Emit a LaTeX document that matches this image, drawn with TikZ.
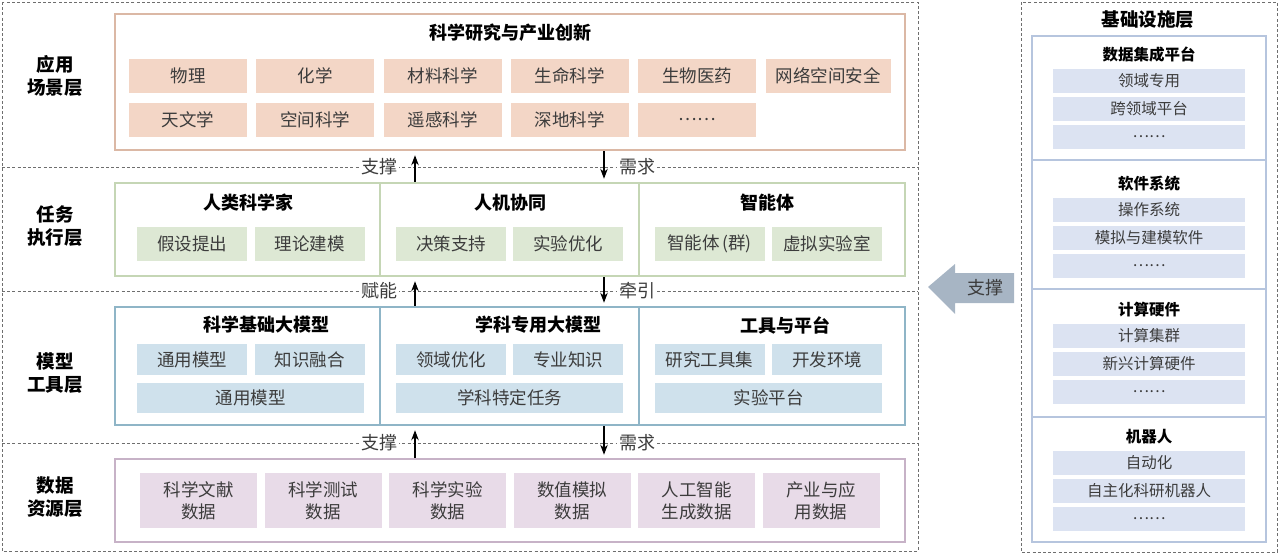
\documentclass[tikz,border=0pt]{standalone}
\usepackage{fontspec}
\setmainfont{Noto Sans CJK SC}
\usepackage{xcolor}
\usepackage{tikz}
\usetikzlibrary{arrows.meta,positioning}
\definecolor{appline}{RGB}{219,184,165}
\definecolor{appfill}{RGB}{243,214,198}
\definecolor{taskline}{RGB}{197,214,181}
\definecolor{taskfill}{RGB}{221,232,212}
\definecolor{modline}{RGB}{143,181,199}
\definecolor{modfill}{RGB}{207,225,236}
\definecolor{datline}{RGB}{199,178,199}
\definecolor{datfill}{RGB}{232,219,232}
\definecolor{infline}{RGB}{182,197,222}
\definecolor{inffill}{RGB}{220,227,242}
\definecolor{bigarrow}{RGB}{167,181,196}
\definecolor{txt}{RGB}{60,60,60}
\definecolor{sepgray}{RGB}{110,110,110}
\tikzset{
  layerbox/.style={draw=#1, line width=2.5pt, minimum width=790pt, inner sep=0pt},
  cell/.style={fill=#1, inner sep=0pt, text=txt, align=center,
    font=\fontsize{17.5}{22}\selectfont},
  headline/.style={font=\bfseries\fontsize{18}{22}\selectfont},
  layerlabel/.style={align=center, font=\bfseries\fontsize{18.5}{23}\selectfont},
  sepline/.style={sepgray, line width=0.7pt, dash pattern=on 3pt off 2.2pt},
  flowlabel/.style={fill=white, inner sep=2pt, text=txt, font=\fontsize{18}{22}\selectfont},
  flowarrow/.style={-{Stealth[length=10pt,width=7.5pt]}, line width=1.1pt},
  infcell/.style={fill=inffill, minimum width=192pt, minimum height=24pt, inner sep=0pt,
    text=txt, font=\fontsize{15.5}{18}\selectfont},
  inftitle/.style={font=\bfseries\fontsize{15.5}{18}\selectfont}
}
\begin{document}
\begin{tikzpicture}[x=1pt, y=-1pt]
    \useasboundingbox (0,0) rectangle (1280,554);
    % frames
    \draw[sepline] (2,2) rectangle (918,551);
    \draw[sepline] (1021,2) rectangle (1277,552);
    \draw[sepline] (2,167) -- (918,167);
    \draw[sepline] (2,291) -- (918,291);
    \draw[sepline] (2,443) -- (918,443);

    % layer names
    \node[layerlabel] (n1) at (55,76) {应用\\场景层};
    \node[layerlabel] (n2) at (55,226) {任务\\执行层};
    \node[layerlabel] (n3) at (55,373) {模型\\工具层};
    \node[layerlabel] (n4) at (55,497) {数据\\资源层};

    % application layer
    \node[layerbox=appline, minimum height=136pt] (app) at (510,82) {};
    \node[headline] (appt) at (510,33) {科学研究与产业创新};
    \foreach \t [count=\i] in {物理,化学,材料科学,生命科学,生物医药}
      \node[cell=appfill, minimum width=118pt, minimum height=34pt] (a\i) at ({188+127.25*(\i-1)},76) {\t};
    \node[cell=appfill, minimum width=125pt, minimum height=34pt] (a6) at (828,76) {网络空间安全};
    \foreach \t [count=\i] in {天文学,空间科学,遥感科学,深地科学,……}
      \node[cell=appfill, minimum width=118pt, minimum height=34pt] (b\i) at ({188+127.25*(\i-1)},120) {\t};

    % task layer
    \node[layerbox=taskline, minimum height=93pt] (task) at (510,229.5) {};
    \coordinate (d1) at (380,0);
    \coordinate (d2) at (639,0);
    \draw[taskline, line width=2.5pt] (task.north -| d1) -- (task.south -| d1);
    \draw[taskline, line width=2.5pt] (task.north -| d2) -- (task.south -| d2);
    \node[headline] (t1) at (248,203) {人类科学家};
    \node[headline] (t2) at (510,203) {人机协同};
    \node[headline] (t3) at (767,203) {智能体};
    \foreach \t/\x [count=\i] in {假设提出/192,理论建模/309.5,决策支持/451,实验优化/568,智能体\,(群)/709.5,虚拟实验室/827}
      \node[cell=taskfill, minimum width=110pt, minimum height=34pt] (c\i) at (\x,244) {\t};

    % model layer
    \node[layerbox=modline, minimum height=118pt] (model) at (510,366) {};
    \draw[modline, line width=2.5pt] (model.north -| d1) -- (model.south -| d1);
    \draw[modline, line width=2.5pt] (model.north -| d2) -- (model.south -| d2);
    \node[headline] (m1) at (266,325) {科学基础大模型};
    \node[headline] (m2) at (538,325) {学科专用大模型};
    \node[headline] (m3) at (785,325) {工具与平台};
    \foreach \t/\x [count=\i] in {通用模型/192,知识融合/309.5,领域优化/451,专业知识/568,研究工具集/709.5,开发环境/827}
      \node[cell=modfill, minimum width=110pt, minimum height=31pt] (e\i) at (\x,359.5) {\t};
    \foreach \t/\x [count=\i] in {通用模型/250.5,学科特定任务/509.5,实验平台/768.5}
      \node[cell=modfill, minimum width=227pt, minimum height=30pt] (f\i) at (\x,398) {\t};

    % data layer
    \node[layerbox=datline, minimum height=83pt] (data) at (510,500.5) {};
    \foreach \t [count=\i] in {科学文献\\数据,科学测试\\数据,科学实验\\数据,数值模拟\\数据,人工智能\\生成数据,产业与应\\用数据}
      \node[cell=datfill, minimum width=117pt, minimum height=55pt] (g\i) at ({198.5+124.5*(\i-1)},500.5) {\t};

    % flows between layers
    \coordinate (up) at (415,0);
    \coordinate (dn) at (604,0);
    \draw[flowarrow, shorten >=4pt] (task.north -| up) -- (app.south -| up);
    \draw[flowarrow, shorten >=3pt] (app.south -| dn) -- (task.north -| dn);
    \node[flowlabel] (l1) at (379,167) {支撑};
    \node[flowlabel] (r1) at (637,167) {需求};
    \draw[flowarrow, shorten >=4pt] (model.north -| up) -- (task.south -| up);
    \draw[flowarrow, shorten >=3pt] (task.south -| dn) -- (model.north -| dn);
    \node[flowlabel] (l2) at (379,291) {赋能};
    \node[flowlabel] (r2) at (637,291) {牵引};
    \draw[flowarrow, shorten >=4pt] (data.north -| up) -- (model.south -| up);
    \draw[flowarrow, shorten >=3pt] (model.south -| dn) -- (data.north -| dn);
    \node[flowlabel] (l3) at (379,443) {支撑};
    \node[flowlabel] (r3) at (637,443) {需求};

    % infrastructure
    \node[layerlabel] (infra) at (1148,20) {基础设施层};
    \node[draw=infline, line width=2pt, minimum width=234pt, minimum height=506pt, inner sep=0pt] (inf) at (1149,289) {};
    \foreach \y in {160,289,417}
      \draw[infline, line width=2pt] (inf.west |- 0,\y) -- (inf.east |- 0,\y);
    \foreach \y/\ttl/\ia/\ib [count=\k] in {55/数据集成平台/领域专用/跨领域平台,
        184/软件系统/操作系统/模拟与建模软件,
        310/计算硬件/计算集群/新兴计算硬件,
        437/机器人/自动化/自主化科研机器人} {
      \node[inftitle] (s\k) at (1149,\y) {\ttl};
      \node[infcell] (s\k a) at (1149,\y+25.5) {\ia};
      \node[infcell] (s\k b) at (1149,\y+53.5) {\ib};
      \node[infcell] (s\k c) at (1149,\y+81.5) {……};
    }

    % support arrow
    \fill[bigarrow] (928,287) -- (955,264) -- (955,273) -- (1014,273) -- (1014,303)
      -- (955,303) -- (955,314) -- cycle;
    \node[text=txt, font=\fontsize{18}{22}\selectfont] (sup) at (985,288) {支撑};
\end{tikzpicture}
\end{document}
